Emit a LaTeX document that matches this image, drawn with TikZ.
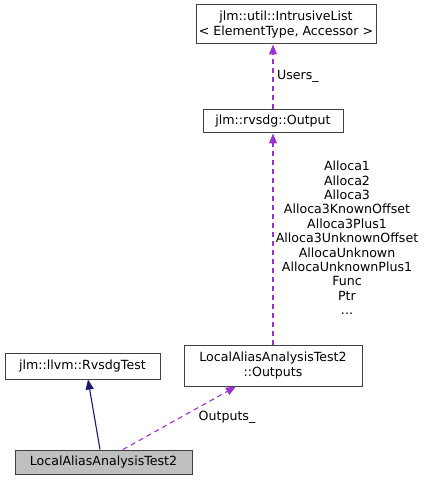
\documentclass[tikz,border=0pt]{standalone}
\usepackage{fontspec}
\setmainfont{DejaVu Sans}
\usetikzlibrary{arrows.meta,calc}
\definecolor{edgepurple}{HTML}{9A32CD}
\definecolor{edgenavy}{HTML}{191970}
\definecolor{grayfill}{HTML}{BFBFBF}
\begin{document}
\begin{tikzpicture}[x=1pt,y=-1pt,
  every node/.style={font=\fontsize{12.6}{14.4}\selectfont},
  cls/.style={draw=black!75,line width=1pt,fill=white,inner sep=0pt,align=center},
  usage/.style={draw=edgepurple,line width=1.1pt,dash pattern=on 5pt off 4pt,-{Triangle[length=10pt,width=8pt]}},
  inherit/.style={draw=edgenavy,line width=1.1pt,-{Triangle[length=10pt,width=8pt]}},
  lbl/.style={align=center,inner sep=0pt}]
\useasboundingbox (0,0) rectangle (428,481);
\node[cls,minimum width=180pt,minimum height=39pt] (ilist) at (286,24.5) {jlm::util::IntrusiveList\\\textless{} ElementType, Accessor \textgreater{}};
\node[cls,minimum width=140pt,minimum height=23pt] (output) at (273,121.5) {jlm::rvsdg::Output};
\node[cls,minimum width=178pt,minimum height=41pt] (outputs) at (273,365.5) {LocalAliasAnalysisTest2\\::Outputs};
\node[cls,minimum width=155pt,minimum height=26pt] (rvsdg) at (82.5,366) {jlm::llvm::RvsdgTest};
\node[cls,fill=grayfill,minimum width=177pt,minimum height=24pt] (test) at (103.5,462) {LocalAliasAnalysisTest2};
\draw[usage] (output.north) -- (output.north |- ilist.south);
\node[lbl,anchor=west] (usersl) at (277,76) {Users\_};
\draw[usage] (outputs.north) -- (output.south);
\node[lbl] (allocl) at (347,238) {Alloca1\\Alloca2\\Alloca3\\Alloca3KnownOffset\\Alloca3Plus1\\Alloca3UnknownOffset\\AllocaUnknown\\AllocaUnknownPlus1\\Func\\Ptr\\...};
\draw[inherit] ($(test.north)+(-3.5,0)$) -- ($(rvsdg.south)+(5.5,0)$);
\draw[usage] ($(test.north)+(19.5,0)$) -- ($(outputs.south)+(-37,0)$);
\node[lbl] (outputsl) at (227,417) {Outputs\_};
\end{tikzpicture}
\end{document}
